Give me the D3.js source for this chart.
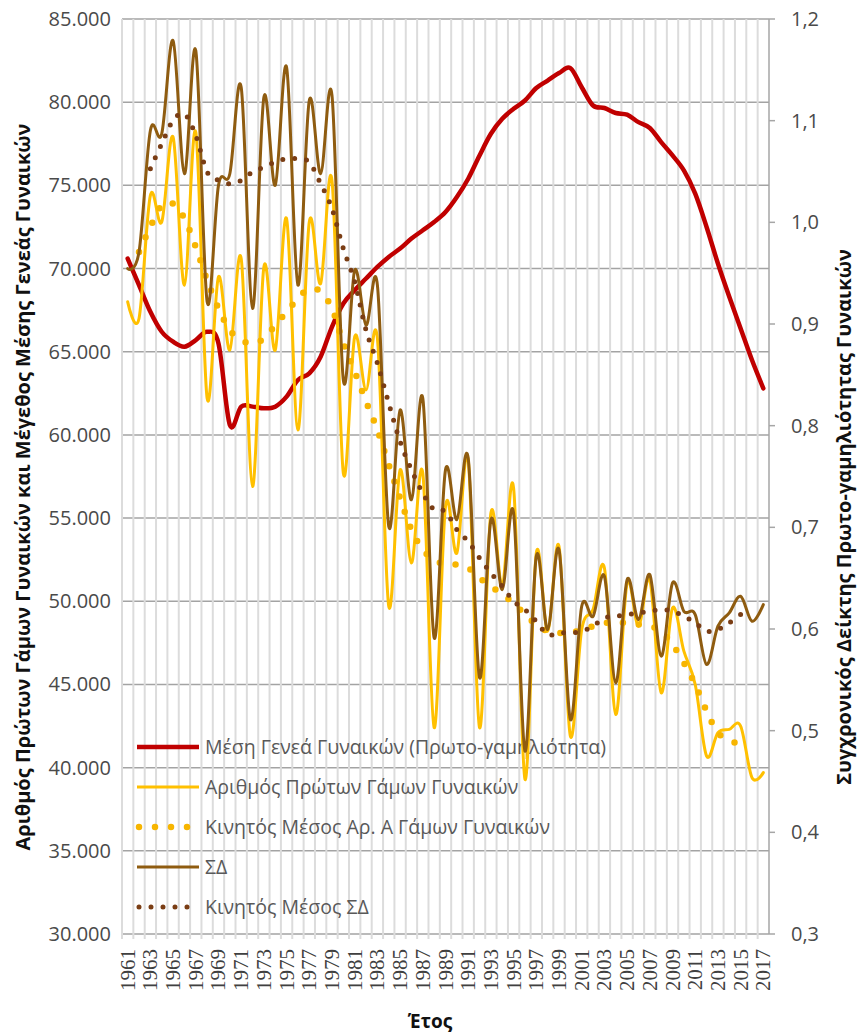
<!DOCTYPE html>
<html>
<head>
<meta charset="utf-8">
<script src="https://cdn.jsdelivr.net/npm/d3@7"></script>
<style>
  body { margin: 0; background: #fff; }
  svg { display: block; }
</style>
</head>
<body>
<div id="chart"></div>
<script>
// Categories
var years = d3.range(1961, 2018);

// Μέση Γενεά Γυναικών (Πρωτο-γαμηλιότητα)
var generation = [70600, 69000, 67400, 66200, 65600, 65300, 65700, 66200, 65500, 60600,
    61700, 61700, 61600, 61700, 62300, 63300, 63700, 64700, 66500, 67900,
    68700, 69400, 70100, 70700, 71200, 71800, 72300, 72800, 73400, 74300,
    75400, 76800, 78100, 79000, 79600, 80100, 80850, 81300, 81750, 82050,
    80900, 79800, 79650, 79350, 79250, 78800, 78450, 77600, 76800, 75900,
    74500, 72500, 70300, 68300, 66400, 64500, 62800];

// Αριθμός Πρώτων Γάμων Γυναικών
var firstMarriages = [68000, 67000, 74400, 72800, 77900, 69000, 78200, 62200, 69500, 65100,
    70600, 56900, 70100, 65100, 73000, 60300, 72800, 69100, 75300, 57700,
    65900, 62700, 65800, 49700, 57900, 52300, 57700, 42400, 55700, 52900,
    58500, 42400, 55300, 50900, 56800, 39300, 52900, 48200, 53300, 41900,
    48300, 49500, 52000, 43200, 51100, 48500, 51300, 44500, 49600, 47000,
    45000, 40700, 42100, 42300, 42500, 39400, 39700];

// Κινητός Μέσος Αρ. Α Γάμων Γυναικών
var firstMarriagesMA = [null, 71000, 72500, 73800, 73900, 73000, 71300, 69300, 67600, 66300,
    65700, 65500, 65800, 66600, 67400, 68200, 68800, 68600, 67600, 65500,
    63800, 62000, 60300, 58200, 56200, 54300, 53100, 52500, 52200, 52200,
    52000, 51400, 50900, 50400, 49900, 49200, 48600, 48200, 48100, 48100,
    48300, 48500, 48700, 48700, 48700, 48600, 48500, 48200, 47400, 46300,
    45000, 43400, 42100, 41700, 41300, null, null];

// ΣΔ
var sd = [70000, 71000, 78300, 78100, 83700, 75700, 83100, 68000, 75000, 75700,
    80900, 67600, 80300, 75000, 82100, 69000, 80100, 75700, 80400, 63300,
    69900, 66600, 69000, 54500, 61500, 56100, 62200, 47800, 57900, 54900,
    58600, 45400, 54900, 50700, 55300, 41000, 52700, 48300, 53100, 42900,
    49700, 49100, 51500, 45100, 51300, 48900, 51600, 46700, 51100, 49400,
    49200, 46200, 48500, 49300, 50300, 48800, 49800];

// Κινητός Μέσος ΣΔ
var sdMA = [null, null, 76000, 77500, 78900, 79300, 78000, 75800, 75300, 75100,
    75300, 75800, 76100, 76400, 76600, 76600, 76400, 75100, 73600, 71200,
    69200, 66300, 64300, 61900, 59600, 57900, 56500, 55500, 55400, 54300,
    53600, 52600, 51700, 50900, 50000, 49500, 48800, 48000, 48100, 48100,
    48200, 48500, 49000, 49100, 49200, 49300, 49400, 49500, 49400, 49100,
    48700, 48200, 48300, 48700, 49200, null, null];

// Tick values
var leftTicks = [30000, 35000, 40000, 45000, 50000, 55000, 60000, 65000, 70000, 75000, 80000, 85000];
var rightTicks = [0.3, 0.4, 0.5, 0.6, 0.7, 0.8, 0.9, 1.0, 1.1, 1.2];
var yearTicks = years.filter(function (d) { return (d - 1961) % 2 === 0; });

var legendLabels = ['Μέση Γενεά Γυναικών (Πρωτο-γαμηλιότητα)', 'Αριθμός Πρώτων Γάμων Γυναικών',
    'Κινητός Μέσος Αρ. Α Γάμων Γυναικών', 'ΣΔ', 'Κινητός Μέσος ΣΔ'];

// SVG Element
var chart_width = 860;
var chart_height = 1033;
var plot = { left: 122, right: 769, top: 19, bottom: 934 };
var svg = d3.select('#chart')
    .append('svg')
    .attr('width', chart_width)
    .attr('height', chart_height);

var gr = d3.formatLocale({ decimal: ',', thousands: '.', grouping: [3], currency: ['', '€'] });

// Scales
var x_scale = d3.scaleBand()
    .domain(years)
    .range([plot.left, plot.right]);
var y_scale = d3.scaleLinear()
    .domain([30000, 85000])
    .range([plot.bottom, plot.top]);
var y2_scale = d3.scaleLinear()
    .domain([0.3, 1.2])
    .range([plot.bottom, plot.top]);
var cx = function (d) { return x_scale(d) + x_scale.bandwidth() / 2; };

// Horizontal gridlines
svg.append('g')
    .selectAll('line')
    .data(leftTicks)
    .enter()
    .append('line')
    .attr('x1', plot.left)
    .attr('x2', plot.right)
    .attr('y1', function (d) { return y_scale(d); })
    .attr('y2', function (d) { return y_scale(d); })
    .attr('stroke', '#a3a3a3')
    .attr('stroke-width', 1.5);

// Vertical gridlines at category boundaries
svg.append('g')
    .selectAll('line')
    .data(years)
    .enter()
    .append('line')
    .attr('x1', function (d) { return x_scale(d); })
    .attr('x2', function (d) { return x_scale(d); })
    .attr('y1', plot.top)
    .attr('y2', plot.bottom + 5)
    .attr('stroke', '#dcdcdc')
    .attr('stroke-width', 2);

// Right axis line + ticks
svg.append('line')
    .attr('x1', plot.right).attr('x2', plot.right)
    .attr('y1', plot.top).attr('y2', plot.bottom)
    .attr('stroke', '#a6a6a6').attr('stroke-width', 1.5);
svg.append('g')
    .selectAll('line')
    .data(rightTicks)
    .enter()
    .append('line')
    .attr('x1', plot.right)
    .attr('x2', plot.right + 6)
    .attr('y1', function (d) { return y2_scale(d); })
    .attr('y2', function (d) { return y2_scale(d); })
    .attr('stroke', '#a6a6a6')
    .attr('stroke-width', 1.5);

// Left tick labels
svg.append('g')
    .selectAll('text')
    .data(leftTicks)
    .enter()
    .append('text')
    .text(function (d) { return gr.format(',d')(d); })
    .attr('x', 111)
    .attr('y', function (d) { return y_scale(d) + 7; })
    .attr('text-anchor', 'end')
    .attr('font-family', 'Open Sans, sans-serif')
    .attr('font-size', 20)
    .attr('fill', '#4a4a4a');

// Right tick labels
svg.append('g')
    .selectAll('text')
    .data(rightTicks)
    .enter()
    .append('text')
    .text(function (d) { return gr.format('.1f')(d); })
    .attr('x', 791)
    .attr('y', function (d) { return y2_scale(d) + 7; })
    .attr('font-family', 'Open Sans, sans-serif')
    .attr('font-size', 20)
    .attr('fill', '#4a4a4a');

// Year labels
svg.append('g')
    .selectAll('text')
    .data(yearTicks)
    .enter()
    .append('text')
    .text(function (d) { return d; })
    .attr('transform', function (d) { return 'translate(' + (cx(d) + 7) + ',949) rotate(-90)'; })
    .attr('text-anchor', 'end')
    .attr('font-family', 'Liberation Serif, serif')
    .attr('font-size', 21)
    .attr('fill', '#404040');

// Axis titles
svg.append('text')
    .text('Αριθμός Πρώτων Γάμων Γυναικών και Μέγεθος Μέσης Γενεάς Γυναικών')
    .attr('transform', 'translate(30,487) rotate(-90)')
    .attr('text-anchor', 'middle')
    .attr('font-family', 'Open Sans, sans-serif')
    .attr('font-weight', 'bold')
    .attr('font-size', 20)
    .attr('fill', '#111');
svg.append('text')
    .text('Συγχρονικός Δείκτης Πρωτο-γαμηλιότητας Γυναικών')
    .attr('transform', 'translate(851,517) rotate(-90)')
    .attr('text-anchor', 'middle')
    .attr('font-family', 'Open Sans, sans-serif')
    .attr('font-weight', 'bold')
    .attr('font-size', 20)
    .attr('fill', '#111');
svg.append('text')
    .text('Έτος')
    .attr('x', 430)
    .attr('y', 1028)
    .attr('text-anchor', 'middle')
    .attr('font-family', 'Open Sans, sans-serif')
    .attr('font-weight', 'bold')
    .attr('font-size', 19)
    .attr('fill', '#111');

// Series styles
var series = [
    { values: generation, color: '#c00000', width: 4.5, dash: null },
    { values: firstMarriages, color: '#ffc000', width: 3, dash: null },
    { values: firstMarriagesMA, color: '#f7b500', width: 6.5, dash: '0,16' },
    { values: sd, color: '#8f5c10', width: 3, dash: null },
    { values: sdMA, color: '#7a3d14', width: 5, dash: '0,12' }
];

// Legend
var legend = svg.append('g')
    .selectAll('g')
    .data(series)
    .enter()
    .append('g')
    .attr('transform', function (d, i) { return 'translate(0,' + (747 + i * 40) + ')'; });
legend.append('line')
    .attr('x1', function (d) { return d.dash ? 139 : 137; })
    .attr('x2', 199)
    .attr('stroke', function (d) { return d.color; })
    .attr('stroke-width', function (d) { return d.width; })
    .attr('stroke-linecap', function (d) { return d.dash ? 'round' : 'butt'; })
    .attr('stroke-dasharray', function (d) { return d.dash; });
legend.append('text')
    .text(function (d, i) { return legendLabels[i]; })
    .attr('x', 205)
    .attr('y', 7)
    .attr('font-family', 'Open Sans, sans-serif')
    .attr('font-size', 19.5)
    .attr('fill', '#595959');

// Lines
var line = d3.line()
    .defined(function (d) { return d[1] !== null; })
    .x(function (d) { return cx(d[0]); })
    .y(function (d) { return y_scale(d[1]); })
    .curve(d3.curveCardinal.tension(0));

svg.append('g')
    .selectAll('path')
    .data(series)
    .enter()
    .append('path')
    .attr('d', function (s) { return line(years.map(function (yr, i) { return [yr, s.values[i]]; })); })
    .attr('fill', 'none')
    .attr('stroke', function (s) { return s.color; })
    .attr('stroke-width', function (s) { return s.width; })
    .attr('stroke-linecap', 'round')
    .attr('stroke-linejoin', 'round')
    .attr('stroke-dasharray', function (s) { return s.dash; });
</script>
</body>
</html>
